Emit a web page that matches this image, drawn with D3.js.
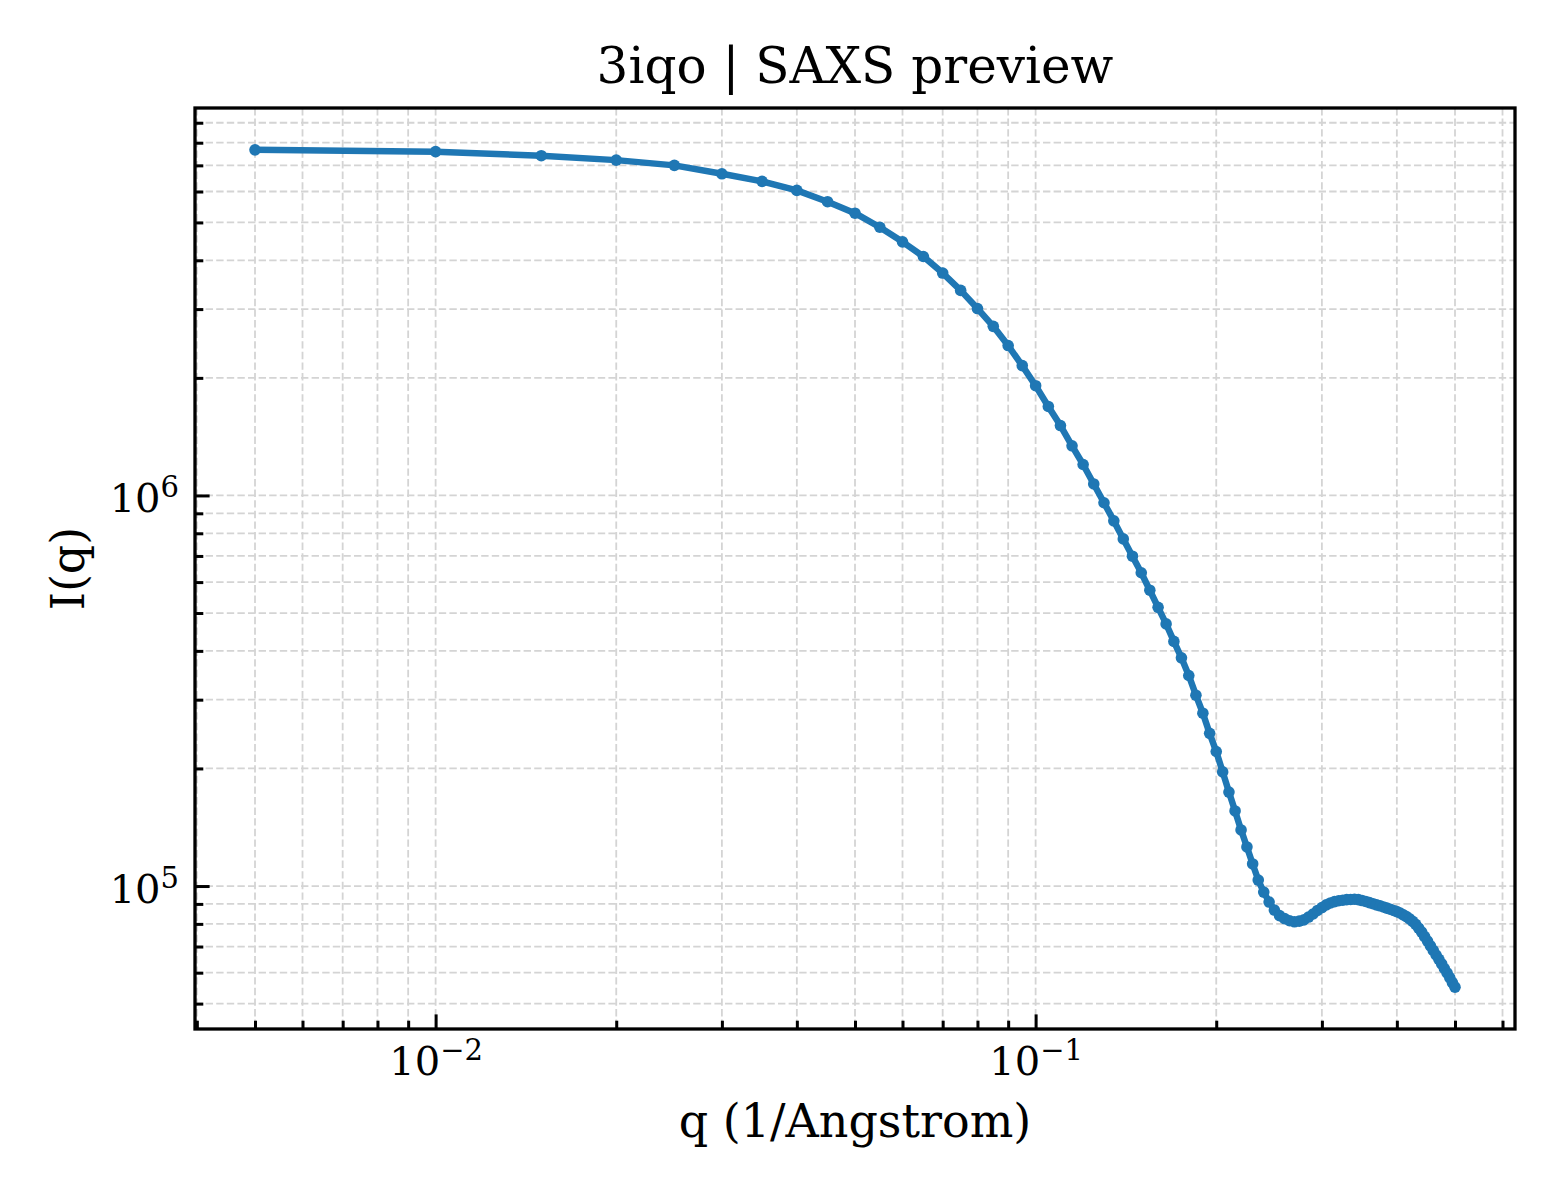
<!DOCTYPE html>
<html>
<head>
<meta charset="utf-8">
<script src="https://cdn.jsdelivr.net/npm/d3@7"></script>
<style>
body { margin: 0; background: #fff; }
svg text { font-family: "DejaVu Serif", serif; fill: #000; }
</style>
</head>
<body>
<svg id="vis" width="1560" height="1200"></svg>
<script>
// texts
var chartTitle = "3iqo | SAXS preview";
var xLabel = "q (1/Angstrom)";
var yLabel = "I(q)";

var qValues = [
    0.005, 0.010, 0.015, 0.020, 0.025, 0.030, 0.035, 0.040, 0.045, 0.050,
    0.055, 0.060, 0.065, 0.070, 0.075, 0.080, 0.085, 0.090, 0.095, 0.100,
    0.105, 0.110, 0.115, 0.120, 0.125, 0.130, 0.135, 0.140, 0.145, 0.150,
    0.155, 0.160, 0.165, 0.170, 0.175, 0.180, 0.185, 0.190, 0.195, 0.200,
    0.205, 0.210, 0.215, 0.220, 0.225, 0.230, 0.235, 0.240, 0.245, 0.250,
    0.255, 0.260, 0.265, 0.270, 0.275, 0.280, 0.285, 0.290, 0.295, 0.300,
    0.305, 0.310, 0.315, 0.320, 0.325, 0.330, 0.335, 0.340, 0.345, 0.350,
    0.355, 0.360, 0.365, 0.370, 0.375, 0.380, 0.385, 0.390, 0.395, 0.400,
    0.405, 0.410, 0.415, 0.420, 0.425, 0.430, 0.435, 0.440, 0.445, 0.450,
    0.455, 0.460, 0.465, 0.470, 0.475, 0.480, 0.485, 0.490, 0.495, 0.500
];
var intensity = [
    7.67e6, 7.59e6, 7.41e6, 7.22e6, 7.00e6, 6.66e6, 6.37e6, 6.04e6, 5.65e6, 5.28e6,
    4.86e6, 4.46e6, 4.09e6, 3.71e6, 3.35e6, 3.01e6, 2.71e6, 2.42e6, 2.15e6, 1.91e6,
    1.69e6, 1.51e6, 1.34e6, 1.20e6, 1.07e6, 9.58e5, 8.61e5, 7.74e5, 6.99e5, 6.34e5,
    5.72e5, 5.17e5, 4.69e5, 4.23e5, 3.84e5, 3.46e5, 3.08e5, 2.77e5, 2.46e5, 2.21e5,
    1.96e5, 1.74e5, 1.557e5, 1.392e5, 1.259e5, 1.139e5, 1.036e5, 9.65e4, 9.10e4, 8.68e4,
    8.40e4, 8.25e4, 8.15e4, 8.10e4, 8.13e4, 8.19e4, 8.33e4, 8.48e4, 8.66e4, 8.81e4,
    8.95e4, 9.05e4, 9.12e4, 9.17e4, 9.20e4, 9.23e4, 9.24e4, 9.25e4, 9.23e4, 9.18e4,
    9.13e4, 9.07e4, 9.01e4, 8.95e4, 8.90e4, 8.84e4, 8.78e4, 8.72e4, 8.66e4, 8.60e4,
    8.53e4, 8.44e4, 8.35e4, 8.24e4, 8.12e4, 7.98e4, 7.80e4, 7.62e4, 7.42e4, 7.23e4,
    7.03e4, 6.84e4, 6.66e4, 6.49e4, 6.32e4, 6.15e4, 5.99e4, 5.83e4, 5.66e4, 5.51e4
];

// major ticks and their exponent labels
var xMajorTicks = [0.01, 0.1];
var xTickExps = ["\u22122", "\u22121"];
var yMajorTicks = [1e5, 1e6];
var yTickExps = ["5", "6"];

var lineColor = "#1f77b4";

// set the dimensions and margins of the graph
var margin = {top: 108, right: 45, bottom: 171, left: 195},
    width = 1560 - margin.left - margin.right,
    height = 1200 - margin.top - margin.bottom;

var svg = d3.select("#vis")
    .append("g")
    .attr("transform", "translate(" + margin.left + "," + margin.top + ")");

// log domains with 5% padding (in log space) like matplotlib autoscale
function padLog(ext){
    var a = Math.log10(ext[0]), b = Math.log10(ext[1]);
    var p = (b - a) * 0.05;
    return [Math.pow(10, a - p), Math.pow(10, b + p)];
}

var x = d3.scaleLog()
    .domain(padLog(d3.extent(qValues)))
    .range([0, width]);
var y = d3.scaleLog()
    .domain(padLog(d3.extent(intensity)))
    .range([height, 0]);

var xMinor = x.ticks().filter(function(t){ return xMajorTicks.indexOf(t) < 0; });
var yMinor = y.ticks().filter(function(t){ return yMajorTicks.indexOf(+t.toPrecision(6)) < 0; });

// grid (major + minor), dashed
var grid = svg.append("g").attr("class", "grid");
grid.selectAll(".vgrid")
    .data(xMajorTicks.concat(xMinor))
    .enter()
    .append("line")
    .attr("x1", function(d){ return x(d); })
    .attr("x2", function(d){ return x(d); })
    .attr("y1", 0)
    .attr("y2", height);
grid.selectAll(".hgrid")
    .data(yMajorTicks.concat(yMinor))
    .enter()
    .append("line")
    .attr("x1", 0)
    .attr("x2", width)
    .attr("y1", function(d){ return y(d); })
    .attr("y2", function(d){ return y(d); });
grid.selectAll("line")
    .attr("stroke", "#d4d4d4")
    .attr("stroke-width", 1.8)
    .attr("stroke-dasharray", "7.4,3.2");

// the curve
var line = d3.line()
    .x(function(d){ return x(d[0]); })
    .y(function(d){ return y(d[1]); });
var pts = qValues.map(function(q, i){ return [q, intensity[i]]; });

svg.append("path")
    .datum(pts)
    .attr("d", line)
    .attr("fill", "none")
    .attr("stroke", lineColor)
    .attr("stroke-width", 6.5)
    .attr("stroke-linejoin", "round")
    .attr("stroke-linecap", "round");

svg.selectAll("indPoints")
    .data(pts)
    .enter()
    .append("circle")
    .attr("cx", function(d){ return x(d[0]); })
    .attr("cy", function(d){ return y(d[1]); })
    .attr("r", 5.8)
    .attr("fill", lineColor);

// axes: ticks point inward
var tickW = 3;
var xAxis = svg.append("g")
    .attr("transform", "translate(0," + height + ")")
    .call(d3.axisBottom(x).tickValues(xMajorTicks).tickSize(-14.6).tickFormat(function(){ return ""; }));
svg.append("g")
    .attr("transform", "translate(0," + height + ")")
    .call(d3.axisBottom(x).tickValues(xMinor).tickSize(-8.3).tickFormat(function(){ return ""; }));
var yAxis = svg.append("g")
    .call(d3.axisLeft(y).tickValues(yMajorTicks).tickSize(-14.6).tickFormat(function(){ return ""; }));
svg.append("g")
    .call(d3.axisLeft(y).tickValues(yMinor).tickSize(-8.3).tickFormat(function(){ return ""; }));

svg.selectAll(".domain").remove();
svg.selectAll(".tick line").attr("stroke", "#000").attr("stroke-width", tickW);

// 10^n labels
xAxis.selectAll(".tick text")
    .attr("y", 46)
    .attr("dy", 0)
    .attr("text-anchor", "middle")
    .style("font-size", "40px")
    .each(function(d, i){
        var t = d3.select(this);
        t.append("tspan").text("10");
        t.append("tspan").attr("dy", -15).style("font-size", "29px").text(xTickExps[i]);
    });
yAxis.selectAll(".tick text")
    .attr("x", -16)
    .attr("y", 0)
    .attr("dy", 16)
    .attr("text-anchor", "end")
    .style("font-size", "40px")
    .each(function(d, i){
        var t = d3.select(this);
        t.append("tspan").text("10");
        t.append("tspan").attr("dy", -15).style("font-size", "29px").text(yTickExps[i]);
    });
svg.selectAll(".tick text").attr("fill", "#000").attr("font-family", "DejaVu Serif");

// frame
svg.append("rect")
    .attr("x", 0)
    .attr("y", 0)
    .attr("width", width)
    .attr("height", height)
    .attr("fill", "none")
    .attr("stroke", "#000")
    .attr("stroke-width", 3.3);

// title and axis labels
svg.append("text")
    .attr("x", width / 2)
    .attr("y", 83 - margin.top)
    .attr("text-anchor", "middle")
    .style("font-size", "50px")
    .text(chartTitle);
svg.append("text")
    .attr("x", width / 2)
    .attr("y", height + 108)
    .attr("text-anchor", "middle")
    .style("font-size", "46px")
    .text(xLabel);
svg.append("text")
    .attr("transform", "translate(" + (84 - margin.left) + "," + (height / 2) + ") rotate(-90)")
    .attr("text-anchor", "middle")
    .style("font-size", "46px")
    .text(yLabel);
</script>
</body>
</html>
